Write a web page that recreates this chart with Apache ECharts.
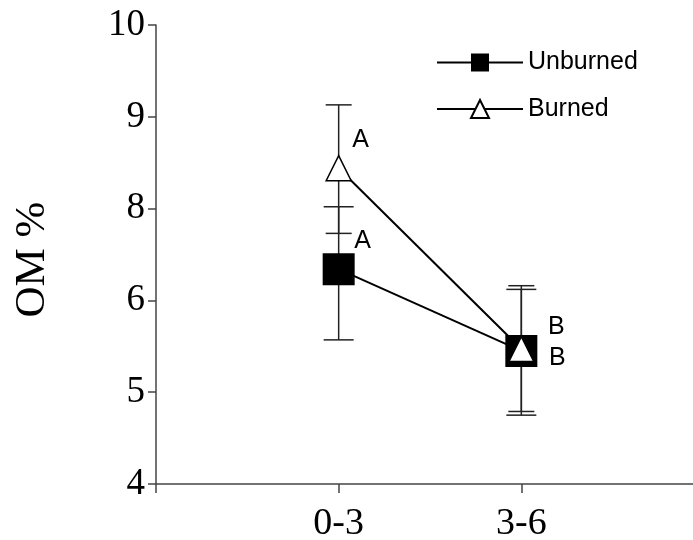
<!DOCTYPE html>
<html>
<head>
<meta charset="utf-8">
<script src="https://cdn.jsdelivr.net/npm/echarts@6/dist/echarts.min.js"></script>
<style>html,body{margin:0;padding:0;background:#fff}#c{width:693px;height:540px}</style>
</head>
<body>
<div id="c"></div>
<script>
// Data (internal axis units; tick labels shown as printed)
const categories = ['0-3', '3-6'];
const yTickLabels = ['4', '5', '6', '8', '9', '10'];
const unburnedMean = [6.34, 5.45];
const unburnedLow  = [5.57, 4.75];
const unburnedHigh = [7.02, 6.12];
const burnedMean   = [7.44, 5.47];
const burnedLow    = [6.73, 4.79];
const burnedHigh   = [8.13, 6.16];
const unburnedLetters = ['A', 'B'];
const burnedLetters   = ['A', 'B'];

const chart = echarts.init(document.getElementById('c'), null, {renderer: 'canvas'});

const unburnedOffsets = [[24, -28], [36, 7]];
const burnedOffsets   = [[22, -28], [35, -22]];

function pointData(means, letters, offsets) {
  return means.map((m, i) => ({
    value: [i + 1, m],
    label: {
      show: true, formatter: letters[i], position: 'inside', offset: offsets[i],
      align: 'center', verticalAlign: 'middle',
      fontFamily: 'Liberation Sans', fontSize: 25, color: '#000'
    }
  }));
}
function errData(low, high) {
  return low.map((l, i) => [i + 1, l, high[i]]);
}
function errSeries(name, low, high, capHalf) {
  return {
    type: 'custom', name: name + ' err', z: 1, silent: true,
    data: errData(low, high),
    renderItem(params, api) {
      const x = api.value(0);
      const top = api.coord([x, api.value(2)]);
      const bot = api.coord([x, api.value(1)]);
      const st = {stroke: '#222', lineWidth: 1.5};
      return {type: 'group', children: [
        {type: 'line', shape: {x1: top[0], y1: top[1], x2: bot[0], y2: bot[1]}, style: st},
        {type: 'line', shape: {x1: top[0] - capHalf, y1: top[1], x2: top[0] + capHalf, y2: top[1]}, style: st},
        {type: 'line', shape: {x1: bot[0] - capHalf, y1: bot[1], x2: bot[0] + capHalf, y2: bot[1]}, style: st}
      ]};
    }
  };
}

chart.setOption({
  animation: false,
  backgroundColor: '#fff',
  grid: {left: 156, top: 25, width: 548, height: 459, containLabel: false, outerBoundsMode: 'none'},
  legend: {
    orient: 'vertical', left: 436, top: 50, padding: 0, itemWidth: 86, itemHeight: 22.5, itemGap: 21.5,
    data: ['Unburned', 'Burned'],
    textStyle: {fontFamily: 'Liberation Sans', fontSize: 25, color: '#000'}
  },
  xAxis: {
    type: 'value', min: 0, max: 3, interval: 1,
    splitLine: {show: false},
    axisLine: {lineStyle: {color: '#444', width: 1.5}},
    axisTick: {show: true, length: 9, lineStyle: {color: '#444', width: 1.5}},
    axisLabel: {
      margin: 21, fontFamily: 'Liberation Serif', fontSize: 38, color: '#000',
      formatter: v => categories[v - 1] || ''
    }
  },
  yAxis: {
    type: 'value', min: 4, max: 9, interval: 1,
    name: 'OM %', nameLocation: 'middle', nameGap: 102, nameRotate: 90,
    nameTextStyle: {fontFamily: 'Liberation Serif', fontSize: 43, color: '#000', padding: [0, 10, 0, 0]},
    splitLine: {show: false},
    axisLine: {show: true, lineStyle: {color: '#444', width: 1.5}},
    axisTick: {show: true, length: 8, lineStyle: {color: '#444', width: 1.5}},
    axisLabel: {
      margin: 11, fontFamily: 'Liberation Serif', fontSize: 37, color: '#000',
      formatter: v => yTickLabels[v - 4]
    }
  },
  series: [
    errSeries('Unburned', unburnedLow, unburnedHigh, 15),
    errSeries('Burned', burnedLow, burnedHigh, 13),
    {
      name: 'Unburned', type: 'line', z: 3,
      symbol: 'rect', symbolSize: 32,
      itemStyle: {color: '#000'},
      lineStyle: {color: '#000', width: 2},
      data: pointData(unburnedMean, unburnedLetters, unburnedOffsets)
    },
    {
      name: 'Burned', type: 'line', z: 4,
      symbol: 'triangle', symbolSize: 25,
      itemStyle: {color: '#fff', borderColor: '#000', borderWidth: 1.5},
      lineStyle: {color: '#000', width: 2},
      data: pointData(burnedMean, burnedLetters, burnedOffsets)
    }
  ]
});
</script>
</body>
</html>
